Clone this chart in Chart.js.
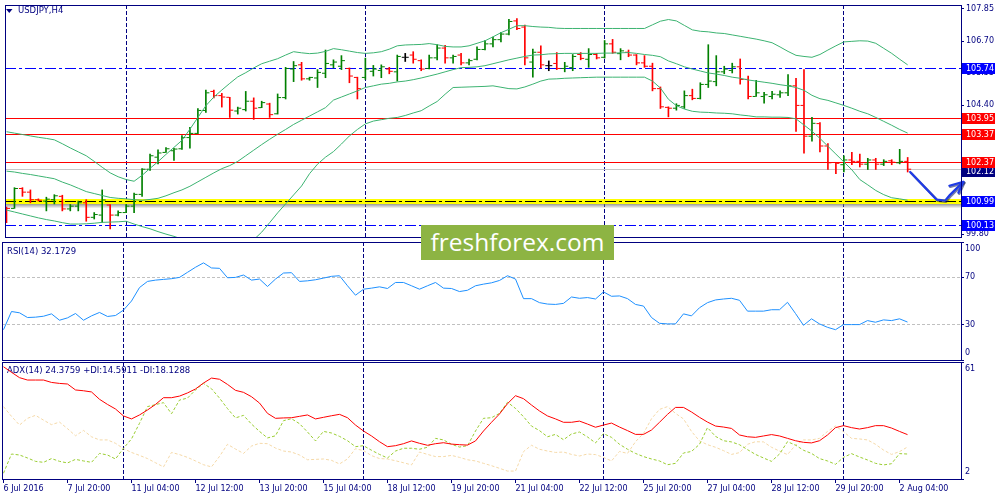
<!DOCTYPE html>
<html><head><meta charset="utf-8">
<script src="https://cdn.jsdelivr.net/npm/chart.js@4.4.1/dist/chart.umd.min.js"></script>
<style>
html,body{margin:0;padding:0;background:#fff;width:1000px;height:500px;overflow:hidden;}
canvas{position:absolute;left:0;}
#wm{position:absolute;left:421px;top:225px;width:193px;height:35px;background:#8DB443;color:#fff;font:24.5px "Open Sans",sans-serif;line-height:34px;text-align:center;z-index:5;}
</style></head><body>
<canvas id="cMain" width="1000" height="242" style="top:0"></canvas>
<canvas id="cRsi" width="1000" height="121" style="top:241px"></canvas>
<canvas id="cAdx" width="1000" height="139" style="top:361px"></canvas>
<div id="wm">freshforex.com</div>
<script>
// ---------------- DATA ----------------
const symbolTitle = 'USDJPY,H4';
const rsiTitle = 'RSI(14) 32.1729';
const adxTitle = 'ADX(14) 24.3759 +DI:14.5911 -DI:18.1288';

const timeLabels = ['6 Jul 2016','7 Jul 20:00','11 Jul 04:00','12 Jul 12:00','13 Jul 20:00','15 Jul 04:00','18 Jul 12:00','19 Jul 20:00','21 Jul 04:00','22 Jul 12:00','25 Jul 20:00','27 Jul 04:00','28 Jul 12:00','29 Jul 20:00','2 Aug 04:00'];
const labelBars = [0,8,16,24,32,40,48,56,64,72,80,88,96,104,112];
const separatorBars = [15,45,75,105];

const opens = [100.76,100.72,101.43,101.30,101.03,100.98,101.03,101.15,100.70,100.80,
100.92,100.40,100.48,100.84,100.48,100.57,100.80,101.22,102.12,102.55,
102.72,102.78,102.85,103.25,103.40,104.22,104.90,104.75,104.69,104.20,
104.25,104.55,104.32,104.45,104.10,104.68,105.70,105.85,105.35,105.38,
105.55,105.85,105.80,105.72,105.40,105.40,105.62,105.65,105.70,105.60,
106.12,106.20,106.00,105.72,106.10,106.45,106.10,106.20,105.92,106.05,
106.40,106.60,106.75,106.95,107.42,107.20,105.95,106.30,105.82,105.90,
105.72,105.75,106.22,106.05,106.22,106.12,106.60,106.25,106.30,106.20,
105.92,105.80,105.00,104.33,104.30,104.35,104.75,104.65,105.15,105.25,
105.60,105.65,105.78,105.33,104.72,104.72,104.72,104.78,104.85,105.10,
104.40,103.30,103.75,102.95,102.36,102.28,102.45,102.40,102.30,102.45,
102.30,102.42,102.35,102.40];
const highs = [100.77,101.46,101.46,101.38,101.06,101.12,101.21,101.19,100.86,100.98,
101.03,100.57,101.38,100.86,100.63,100.86,101.27,102.14,102.66,102.81,
102.89,102.87,103.32,103.62,104.29,104.95,104.95,104.83,104.69,104.34,
104.90,104.67,104.55,104.48,104.81,105.76,105.97,105.94,105.41,105.68,
106.38,106.03,106.18,105.74,105.41,106.09,105.83,105.85,105.76,106.20,
106.26,106.32,106.03,106.20,106.57,106.55,106.20,106.26,106.06,106.49,
106.72,106.84,107.01,107.48,107.50,107.27,106.41,106.53,105.99,106.29,
105.94,106.22,106.29,106.43,106.26,106.72,106.76,106.43,106.38,106.22,
106.18,105.91,105.06,104.35,104.46,104.92,104.98,105.21,106.57,106.18,
105.80,105.91,106.06,105.45,105.30,104.87,104.90,104.92,105.50,105.37,
105.68,103.97,103.79,103.04,102.37,102.60,102.72,102.66,102.51,102.51,
102.46,102.46,102.83,102.54];
const lows = [100.21,100.72,101.15,100.92,100.98,100.63,100.88,100.63,100.63,100.63,
100.26,100.34,100.22,99.99,100.45,100.57,100.57,101.15,102.08,102.31,
102.72,102.43,102.83,102.87,103.39,104.15,104.67,104.34,103.97,104.09,
104.20,103.90,104.32,103.97,104.09,104.63,105.25,105.30,105.30,105.04,
105.39,105.74,105.68,105.21,104.63,105.33,105.45,105.39,105.53,105.27,
105.97,105.91,105.64,105.70,106.03,105.91,105.91,105.85,105.85,106.03,
106.38,106.49,106.67,106.92,107.11,105.85,105.41,105.74,105.64,105.68,
105.60,105.64,106.03,105.76,106.06,106.09,106.26,106.03,106.14,105.85,
105.76,104.92,104.29,103.99,104.23,104.29,104.60,104.63,105.04,105.10,
105.53,105.56,105.16,104.63,104.72,104.48,104.63,104.69,104.75,103.47,
102.69,103.12,102.74,102.11,101.96,102.02,102.28,102.20,102.11,102.11,
102.25,102.28,102.31,102.02];
const closes = [100.72,101.43,101.30,101.03,101.01,101.05,101.17,100.70,100.80,100.92,
100.40,100.50,101.02,100.48,100.57,100.80,101.22,102.12,102.60,102.70,
102.85,102.84,103.25,103.40,104.22,104.85,104.75,104.70,104.23,104.30,
104.55,104.30,104.50,104.07,104.68,105.72,105.82,105.35,105.40,105.58,
105.90,105.95,106.00,105.45,105.00,105.70,105.70,105.78,105.62,106.15,
106.12,106.05,105.70,106.10,106.45,106.10,106.15,105.92,106.00,106.40,
106.60,106.75,106.95,107.40,107.15,106.10,106.30,105.85,105.82,105.72,
105.80,106.15,106.08,106.22,106.10,106.60,106.30,106.35,106.20,105.92,
105.80,105.00,104.35,104.30,104.40,104.75,104.65,105.15,105.27,105.60,
105.70,105.78,105.33,104.72,104.85,104.78,104.80,104.85,105.10,104.40,
103.30,103.76,102.95,102.35,102.33,102.45,102.40,102.30,102.45,102.30,
102.40,102.37,102.40,102.12];

const bbUpper = [103.46,103.41,103.36,103.31,103.26,103.22,103.17,103.03,102.88,102.74,
102.60,102.40,102.19,101.99,101.85,101.75,101.69,101.90,102.15,102.39,
102.65,102.90,103.15,103.55,103.97,104.39,104.70,104.95,105.19,105.42,
105.57,105.74,105.89,105.98,106.07,106.20,106.32,106.28,106.25,106.27,
106.33,106.43,106.39,106.34,106.29,106.26,106.28,106.32,106.41,106.53,
106.56,106.57,106.58,106.61,106.57,106.51,106.49,106.49,106.53,106.62,
106.71,106.85,107.00,107.12,107.25,107.25,107.22,107.20,107.19,107.16,
107.15,107.15,107.15,107.15,107.15,107.15,107.15,107.15,107.15,107.15,
107.15,107.28,107.41,107.47,107.42,107.26,107.10,107.05,107.03,106.99,
106.97,106.92,106.87,106.82,106.77,106.71,106.64,106.49,106.33,106.19,
106.15,106.12,106.22,106.38,106.53,106.67,106.69,106.71,106.70,106.62,
106.44,106.26,106.05,105.85];
const bbMiddle = [102.05,102.02,101.97,101.93,101.88,101.83,101.78,101.66,101.56,101.44,
101.32,101.25,101.18,101.11,101.08,101.06,101.03,101.01,101.04,101.08,
101.17,101.28,101.38,101.51,101.67,101.83,101.99,102.14,102.25,102.40,
102.60,102.80,103.00,103.19,103.37,103.54,103.72,103.87,104.02,104.17,
104.32,104.59,104.70,104.81,104.92,105.04,105.10,105.16,105.19,105.24,
105.27,105.32,105.38,105.45,105.52,105.60,105.68,105.75,105.76,105.78,
105.82,105.89,105.96,106.03,106.09,106.15,106.20,106.21,106.24,106.25,
106.26,106.26,106.26,106.26,106.26,106.27,106.27,106.28,106.29,106.26,
106.22,106.19,106.14,105.99,105.89,105.78,105.70,105.63,105.56,105.52,
105.47,105.41,105.37,105.31,105.27,105.23,105.19,105.14,105.10,105.04,
104.94,104.76,104.64,104.58,104.49,104.40,104.30,104.19,104.10,103.97,
103.83,103.69,103.54,103.41];
const bbLower = [100.66,100.59,100.52,100.45,100.38,100.32,100.27,100.21,100.16,100.16,
100.17,100.19,100.22,100.23,100.24,100.26,100.16,100.07,99.99,99.89,
99.80,99.72,99.62,99.49,99.37,99.29,99.23,99.23,99.27,99.33,
99.44,99.60,99.87,100.21,100.56,100.88,101.20,101.52,101.96,102.30,
102.55,102.75,103.02,103.31,103.54,103.74,103.84,103.89,103.94,103.97,
104.04,104.13,104.21,104.38,104.54,104.80,105.04,105.05,105.06,105.07,
105.08,105.10,105.05,105.00,104.99,105.06,105.16,105.27,105.34,105.35,
105.37,105.38,105.39,105.40,105.41,105.41,105.41,105.41,105.41,105.41,
105.41,105.27,105.02,104.62,104.39,104.27,104.19,104.16,104.15,104.13,
104.12,104.10,104.06,104.03,103.99,103.99,103.98,103.98,103.97,103.92,
103.70,103.48,103.22,102.94,102.66,102.38,102.10,101.75,101.56,101.36,
101.21,101.10,101.06,101.01];

const rsi = [25.7,41.1,40.0,36.0,36.3,37.1,39.1,33.7,35.7,39.4,
33.7,37.4,40.3,36.9,37.7,42.3,50.0,61.4,66.6,67.7,
68.3,68.9,70.0,74.3,78.6,82.3,78.0,77.7,69.7,70.0,
72.0,67.7,68.6,62.3,68.6,73.7,74.0,66.6,67.1,68.0,
69.4,70.9,71.4,62.9,54.9,60.0,60.9,62.0,60.6,65.7,
65.7,62.9,60.0,62.9,65.7,60.9,60.6,58.0,59.1,62.9,
64.3,65.4,67.4,71.4,68.6,52.0,52.0,48.6,47.4,47.1,
48.0,53.4,52.3,52.9,51.7,57.7,54.0,54.3,52.0,47.1,
45.7,36.0,31.1,30.6,30.6,39.1,37.4,44.3,48.6,50.9,
51.7,52.3,50.6,41.4,41.4,41.4,42.6,42.6,48.9,39.4,
29.4,34.9,30.6,27.7,25.7,30.0,30.0,30.0,33.4,32.0,
34.0,33.4,34.9,32.17];

const adx = [58.6,55.8,53.1,51.9,51.9,51.9,50.7,50.2,49.9,46.9,
46.5,45.9,42.2,39.6,37.3,33.8,32.3,34.3,36.8,39.6,
43.0,43.0,43.8,45.4,47.4,50.4,52.9,52.3,49.7,46.7,
45.7,43.5,40.3,35.1,32.6,32.8,32.9,33.6,34.3,32.3,
33.1,33.9,34.6,32.9,29.2,26.2,23.7,20.8,18.3,18.8,
19.8,21.2,20.0,19.0,19.8,20.3,19.6,19.3,19.1,21.2,
26.2,30.6,34.8,40.0,44.0,42.5,39.3,36.3,33.8,32.3,
30.6,30.6,31.2,29.7,28.1,29.2,30.2,28.2,26.4,24.5,
24.5,26.7,30.6,34.6,38.1,38.1,35.8,33.1,30.7,28.7,
28.2,27.5,24.2,23.3,23.0,23.7,24.4,23.7,22.5,21.3,
20.5,20.2,21.3,24.2,27.9,28.9,27.9,27.2,27.9,28.9,
28.9,27.7,26.0,24.38];
const plusDI = [4.9,14.6,14.1,12.6,10.9,10.4,12.3,10.9,10.1,11.9,
11.1,10.4,14.9,14.1,12.1,17.5,22.2,30.1,38.5,39.5,
40.5,34.9,41.8,42.8,46.9,50.2,47.5,42.8,37.5,32.8,
34.1,29.7,26.0,22.7,23.8,31.4,32.4,29.9,25.7,21.2,
26.0,25.2,23.5,21.3,18.3,18.8,16.5,14.4,12.6,16.1,
17.5,17.5,17.0,18.0,22.5,21.7,19.5,18.1,18.8,26.2,
32.6,32.9,35.1,40.7,37.6,33.4,28.7,26.4,23.3,24.5,
21.8,24.7,25.7,23.2,20.2,24.9,23.0,19.5,17.0,14.9,
13.3,12.1,11.1,9.2,9.9,15.1,15.9,19.5,27.9,23.5,
21.3,20.7,19.3,16.8,14.4,12.6,10.9,14.6,20.8,19.1,
16.5,14.9,12.3,11.1,9.4,12.9,14.8,13.1,11.6,9.9,
9.1,9.7,14.8,14.59];
const minusDI = [38.5,33.6,29.2,32.6,34.1,31.7,29.4,30.7,27.4,23.8,
26.5,23.3,21.7,21.7,20.0,17.3,15.4,13.9,12.3,10.2,
8.1,15.4,14.3,12.9,11.1,9.2,8.1,13.4,19.5,17.1,
14.9,18.6,20.0,19.8,17.6,16.1,15.6,14.1,11.7,11.9,
12.1,11.4,9.6,12.1,17.3,16.3,13.8,12.3,12.1,11.2,
10.2,9.1,15.6,14.4,13.3,13.3,13.9,12.9,11.7,11.1,
9.9,8.7,7.4,6.0,6.0,15.8,19.0,17.0,16.1,15.4,
15.6,14.4,13.6,14.6,14.3,12.9,11.1,15.9,14.9,20.8,
25.0,32.4,37.1,38.5,35.1,32.3,26.0,21.2,19.3,18.0,
16.3,14.4,15.3,19.5,20.8,20.7,18.0,16.1,14.3,19.1,
21.7,21.7,22.5,26.0,28.7,25.9,22.5,22.2,21.7,19.5,
16.6,14.4,15.8,18.13];

const priceTicks = [107.85,106.70,105.55,104.40,103.25,102.10,100.95,99.80];
const rsiTicks = [0,30,70,100];
const rsiLevels = [30,70];
const adxTicks = [2,61];

const levelValues = [105.74,103.95,103.37,102.37,102.12,100.99,100.13];
const levelStyles = ['dashdot','solid','solid','solid','bid','band','dashdot'];
const levelLineColors = ['#0000FF','#FF0000','#FF0000','#FF0000','#C8C8C8','#000000','#0000FF'];
const levelBoxColors = ['#0000FF','#FF0000','#FF0000','#FF0000','#000080','#0000FF','#0000FF'];

// hand-drawn forecast arrow, in (bar index, price)
const arrowPath = [[113.31,102.02],[116.65,101.03],[117.69,100.996],[118.31,101.205],[118.94,101.38],[119.98,101.67]];

// ---------------- STYLE ----------------
const NAVY = '#000080';
const FONT = '"DejaVu Sans", Verdana, sans-serif';
const UP = '#008000', DOWN = '#FF0000', DOJI = '#000000';
const BB = '#3CB371';
const X_MIN = -0.1875, X_MAX = 119.6875;
const PRICE_MIN = 99.697, PRICE_MAX = 107.989;
const TICK_OFF = 0.25;

Chart.defaults.font.family = FONT;
Chart.defaults.animation = false;

const idx = closes.map((_, i) => i);
const barColors = idx.map(i => closes[i] > opens[i] ? UP : (closes[i] < opens[i] ? DOWN : DOJI));
const pts = arr => arr.map((v, i) => ({x: i, y: v}));

function sepAxis() {
  return {
    type: 'linear', min: X_MIN, max: X_MAX, offset: false,
    afterBuildTicks(s) { s.ticks = separatorBars.map(v => ({value: v})); },
    afterFit(s) { s.height = 0; s.paddingLeft = 0; s.paddingRight = 0; },
    ticks: {display: false},
    grid: {color: NAVY, lineWidth: 1, drawTicks: false, offset: false},
    border: {display: false, dash: [4, 2]}
  };
}

const framePlugin = {
  id: 'frame',
  afterDraw(chart) {
    const {ctx, chartArea: a} = chart;
    ctx.save();
    ctx.strokeStyle = NAVY; ctx.lineWidth = 1;
    ctx.strokeRect(a.left + 0.5, a.top + 0.5, a.right - a.left, a.bottom - a.top);
    ctx.restore();
  }
};

function titlePlugin(text, y, x, tri) {
  return {
    id: 'ttl',
    beforeDatasetsDraw(chart) {
      const ctx = chart.ctx;
      ctx.save();
      ctx.fillStyle = NAVY;
      if (tri) {
        ctx.beginPath(); ctx.moveTo(6, 9); ctx.lineTo(12.5, 9); ctx.lineTo(9.25, 13); ctx.closePath(); ctx.fill();
      }
      ctx.font = '8.5px ' + FONT;
      ctx.textBaseline = 'middle';
      ctx.fillText(text, x, y);
      ctx.restore();
    }
  };
}

function sideLabels(ticks) {
  return {
    id: 'sideLbl',
    afterDraw(chart) {
      const {ctx, chartArea: a} = chart;
      const ys = chart.scales.y;
      ctx.save();
      ctx.fillStyle = NAVY; ctx.font = '8px ' + FONT; ctx.textBaseline = 'middle';
      ticks.forEach(v => {
        let y = ys.getPixelForValue(v);
        y = Math.min(Math.max(y, a.top + 7), a.bottom - 7);
        ctx.fillText(String(v), a.right + 4, y);
      });
      ctx.restore();
    }
  };
}

const levelsPlugin = {
  id: 'levels',
  beforeDatasetsDraw(chart) {
    const {ctx, chartArea: a} = chart;
    const ys = chart.scales.y;
    ctx.save();
    ctx.beginPath(); ctx.rect(a.left, a.top, a.right - a.left, a.bottom - a.top); ctx.clip();
    levelValues.forEach((v, k) => {
      const y = Math.round(ys.getPixelForValue(v)) + 0.5;
      const st = levelStyles[k];
      if (st === 'band') {
        const g = ctx.createLinearGradient(0, y + 2.5, 0, y + 7);
        g.addColorStop(0, 'rgba(120,120,120,0.75)');
        g.addColorStop(1, 'rgba(120,120,120,0)');
        ctx.fillStyle = g; ctx.fillRect(a.left, y + 2.5, a.right - a.left, 5);
        ctx.fillStyle = '#FFFF00'; ctx.fillRect(a.left, y - 2.5, a.right - a.left, 5);
      }
      ctx.strokeStyle = levelLineColors[k];
      ctx.lineWidth = 1;
      ctx.setLineDash(st === 'dashdot' || st === 'band' ? [11, 3, 3, 3] : []);
      ctx.beginPath(); ctx.moveTo(a.left, y); ctx.lineTo(a.right, y); ctx.stroke();
    });
    ctx.restore();
  },
  afterDraw(chart) {
    const {ctx, chartArea: a} = chart;
    const ys = chart.scales.y, xs = chart.scales.x;
    ctx.save();
    ctx.font = '8px ' + FONT; ctx.textBaseline = 'middle';
    // the bid box is drawn first (slightly below its line) so neighbouring boxes sit on top
    const order = levelValues.map((_, k) => k).sort((p, q) => (levelStyles[q] === 'bid') - (levelStyles[p] === 'bid'));
    order.forEach(k => {
      const v = levelValues[k];
      const y = Math.round(ys.getPixelForValue(v)) + (levelStyles[k] === 'bid' ? 2 : 0);
      ctx.fillStyle = levelBoxColors[k];
      ctx.fillRect(a.right + 1, y - 5, 33, 11);
      ctx.fillStyle = '#FFFFFF';
      ctx.fillText(v.toFixed(2), a.right + 5, y + 0.5);
    });
    // arrow
    const P = arrowPath.map(p => [xs.getPixelForValue(p[0]), ys.getPixelForValue(p[1])]);
    const tip = P[P.length - 1];
    const drawArrow = (dx, dy, color, w) => {
      ctx.strokeStyle = color; ctx.lineWidth = w; ctx.lineJoin = 'round'; ctx.lineCap = 'round';
      ctx.beginPath();
      P.forEach((p, i) => i ? ctx.lineTo(p[0] + dx, p[1] + dy) : ctx.moveTo(p[0] + dx, p[1] + dy));
      ctx.stroke();
      ctx.beginPath();
      ctx.moveTo(tip[0] - 14 + dx, tip[1] + 4 + dy); ctx.lineTo(tip[0] + dx, tip[1] + dy); ctx.lineTo(tip[0] - 5 + dx, tip[1] + 11 + dy);
      ctx.stroke();
    };
    drawArrow(1, 1, 'rgba(10,20,90,0.55)', 2.5);
    drawArrow(0, 0, '#1F3BE6', 2.2);
    ctx.restore();
  }
};

// ---------------- MAIN PRICE CHART ----------------
new Chart(document.getElementById('cMain'), {
  type: 'bar',
  data: {
    datasets: [
      {type: 'line', data: pts(bbUpper), borderColor: BB, borderWidth: 1, pointRadius: 0, tension: 0, order: 1},
      {type: 'line', data: pts(bbMiddle), borderColor: BB, borderWidth: 1, pointRadius: 0, tension: 0, order: 1},
      {type: 'line', data: pts(bbLower), borderColor: BB, borderWidth: 1, pointRadius: 0, tension: 0, order: 1},
      {type: 'bar', data: idx.map(i => ({x: i, y: [lows[i], highs[i]]})), backgroundColor: barColors,
        barThickness: 1, grouped: false, borderWidth: 0, borderSkipped: false, order: 3},
      {type: 'scatter', data: idx.map(i => ({x: i - TICK_OFF, y: opens[i]})), pointStyle: 'line', pointRadius: 1.5,
        pointBorderColor: barColors, pointBorderWidth: 1, showLine: false, order: 2},
      {type: 'scatter', data: idx.map(i => ({x: i + TICK_OFF, y: closes[i]})), pointStyle: 'line', pointRadius: 1.5,
        pointBorderColor: barColors, pointBorderWidth: 1, showLine: false, order: 2}
    ]
  },
  options: {
    responsive: false, devicePixelRatio: 1, events: [],
    layout: {padding: {left: 2, top: 2, right: 0, bottom: 2}},
    plugins: {legend: {display: false}, tooltip: {enabled: false}},
    scales: {
      x: sepAxis(),
      y: {
        type: 'linear', position: 'right', min: PRICE_MIN, max: PRICE_MAX,
        afterBuildTicks(s) { s.ticks = priceTicks.map(v => ({value: v})); },
        afterFit(s) { s.width = 39; s.paddingTop = 0; s.paddingBottom = 0; },
        ticks: {color: NAVY, font: {family: FONT, size: 8}, padding: 2, callback: v => Number(v).toFixed(2)},
        grid: {drawOnChartArea: false, drawTicks: true, tickLength: 3, tickColor: NAVY, color: NAVY},
        border: {display: false}
      }
    }
  },
  plugins: [levelsPlugin, framePlugin, titlePlugin(symbolTitle, 11, 18, true)]
});

// ---------------- RSI ----------------
new Chart(document.getElementById('cRsi'), {
  type: 'line',
  data: {datasets: [{data: pts(rsi), borderColor: '#1E90FF', borderWidth: 1, pointRadius: 0, tension: 0}]},
  options: {
    responsive: false, devicePixelRatio: 1, events: [],
    layout: {padding: {left: 2, top: 1, right: 0, bottom: 2}},
    plugins: {legend: {display: false}, tooltip: {enabled: false}},
    scales: {
      x: sepAxis(),
      y: {
        type: 'linear', position: 'right', min: 0, max: 100,
        afterBuildTicks(s) { s.ticks = rsiTicks.map(v => ({value: v})); },
        afterFit(s) { s.width = 39; s.paddingTop = 0; s.paddingBottom = 0; },
        ticks: {display: false},
        grid: {drawOnChartArea: true, drawTicks: true, tickLength: 3, tickColor: NAVY,
          color: c => (c.tick && rsiLevels.includes(c.tick.value)) ? '#C0C0C0' : 'rgba(0,0,0,0)'},
        border: {display: false, dash: [3, 2]}
      }
    }
  },
  plugins: [framePlugin, sideLabels(rsiTicks), titlePlugin(rsiTitle, 10.5, 7, false)]
});

// ---------------- ADX ----------------
const adxX = {
  type: 'linear', min: X_MIN, max: X_MAX, offset: false, position: 'bottom',
  afterBuildTicks(s) { s.ticks = labelBars.map(v => ({value: v})); },
  afterFit(s) { s.height = 21; s.paddingLeft = 0; s.paddingRight = 0; },
  ticks: {color: NAVY, font: {family: FONT, size: 8}, align: 'start', maxRotation: 0, autoSkip: false, padding: 1,
    callback: (v, i) => timeLabels[i]},
  grid: {drawOnChartArea: false, drawTicks: true, tickLength: 4, tickColor: NAVY, color: NAVY},
  border: {display: false}
};
const adxSep = sepAxis();
new Chart(document.getElementById('cAdx'), {
  type: 'line',
  data: {datasets: [
    {data: pts(minusDI), borderColor: '#F5D9A8', borderWidth: 1, borderDash: [3, 2], pointRadius: 0, tension: 0, order: 3},
    {data: pts(plusDI), borderColor: '#9ACD32', borderWidth: 1, borderDash: [3, 2], pointRadius: 0, tension: 0, order: 2},
    {data: pts(adx), borderColor: '#FF0000', borderWidth: 1, pointRadius: 0, tension: 0, order: 1}
  ]},
  options: {
    responsive: false, devicePixelRatio: 1, events: [],
    layout: {padding: {left: 2, top: 1, right: 0, bottom: 0}},
    plugins: {legend: {display: false}, tooltip: {enabled: false}},
    scales: {
      x: adxX,
      xs: adxSep,
      y: {
        type: 'linear', position: 'right', min: 2, max: 61,
        afterBuildTicks(s) { s.ticks = adxTicks.map(v => ({value: v})); },
        afterFit(s) { s.width = 39; s.paddingTop = 0; s.paddingBottom = 0; },
        ticks: {display: false},
        grid: {drawOnChartArea: false, drawTicks: true, tickLength: 3, tickColor: NAVY, color: NAVY},
        border: {display: false}
      }
    }
  },
  plugins: [framePlugin, sideLabels(adxTicks), titlePlugin(adxTitle, 10, 7, false)]
});
</script>
</body></html>
